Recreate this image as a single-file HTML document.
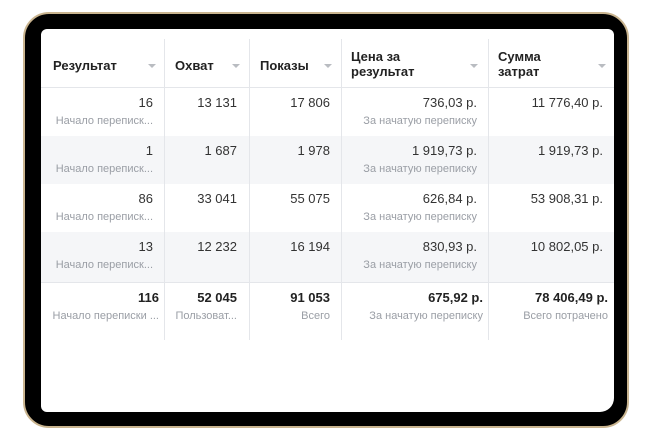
<!DOCTYPE html><html><head><style>
body{margin:0;width:650px;height:448px;background:#fff;position:relative;overflow:hidden;font-family:"Liberation Sans",sans-serif}
.frame{position:absolute;left:23px;top:12px;width:606px;height:416px;border-radius:26px;background:#000;border:2px solid #c9b48f;box-sizing:border-box}
.screen{position:absolute;left:41px;top:29px;width:573px;height:383px;background:#fff;border-radius:6px 6px 14px 6px;overflow:hidden}
.row{position:absolute;left:0;width:573px}
.g{background:#f5f6f8}
.vl{position:absolute;top:10px;height:301px;width:1px;background:#e4e6ea}
.hl{position:absolute;left:0;width:573px;height:1px;background:#e4e6ea}
.t{position:absolute;white-space:nowrap}
.h{font-weight:bold;font-size:13px;color:#222;line-height:15px}
.v{font-size:13px;color:#333;text-align:right}
.s{font-size:11px;color:#9a9ea5;text-align:right}
.b{font-weight:bold;color:#222}
.ar{position:absolute;width:0;height:0;border-left:4px solid transparent;border-right:4px solid transparent;border-top:4px solid #b9bcc1}
</style></head><body>
<div class="frame"></div>
<div class="screen">
<div class="row g" style="top:107px;height:48px"></div>
<div class="row g" style="top:203px;height:50px"></div>
<div class="hl" style="top:58px"></div>
<div class="hl" style="top:253px"></div>
<div class="vl" style="left:123px"></div><div class="vl" style="left:208px"></div><div class="vl" style="left:300px"></div><div class="vl" style="left:447px"></div>
<div class="t h" style="left:12px;top:29px">Результат</div><div class="ar" style="left:107px;top:35px"></div>
<div class="t h" style="left:134px;top:29px">Охват</div><div class="ar" style="left:191px;top:35px"></div>
<div class="t h" style="left:219px;top:29px">Показы</div><div class="ar" style="left:283px;top:35px"></div>
<div class="t h" style="left:310px;top:20px">Цена за<br>результат</div><div class="ar" style="left:429px;top:35px"></div>
<div class="t h" style="left:457px;top:20px">Сумма<br>затрат</div><div class="ar" style="left:557px;top:35px"></div>

<div class="t v" style="right:461px;top:66px">16</div><div class="t s" style="right:461px;top:86px">Начало переписк...</div>
<div class="t v" style="right:377px;top:66px">13 131</div>
<div class="t v" style="right:284px;top:66px">17 806</div>
<div class="t v" style="right:137px;top:66px">736,03 р.</div><div class="t s" style="right:137px;top:86px">За начатую переписку</div>
<div class="t v" style="right:11px;top:66px">11 776,40 р.</div>

<div class="t v" style="right:461px;top:114px">1</div><div class="t s" style="right:461px;top:134px">Начало переписк...</div>
<div class="t v" style="right:377px;top:114px">1 687</div>
<div class="t v" style="right:284px;top:114px">1 978</div>
<div class="t v" style="right:137px;top:114px">1 919,73 р.</div><div class="t s" style="right:137px;top:134px">За начатую переписку</div>
<div class="t v" style="right:11px;top:114px">1 919,73 р.</div>

<div class="t v" style="right:461px;top:162px">86</div><div class="t s" style="right:461px;top:182px">Начало переписк...</div>
<div class="t v" style="right:377px;top:162px">33 041</div>
<div class="t v" style="right:284px;top:162px">55 075</div>
<div class="t v" style="right:137px;top:162px">626,84 р.</div><div class="t s" style="right:137px;top:182px">За начатую переписку</div>
<div class="t v" style="right:11px;top:162px">53 908,31 р.</div>

<div class="t v" style="right:461px;top:210px">13</div><div class="t s" style="right:461px;top:230px">Начало переписк...</div>
<div class="t v" style="right:377px;top:210px">12 232</div>
<div class="t v" style="right:284px;top:210px">16 194</div>
<div class="t v" style="right:137px;top:210px">830,93 р.</div><div class="t s" style="right:137px;top:230px">За начатую переписку</div>
<div class="t v" style="right:11px;top:210px">10 802,05 р.</div>

<div class="t v b" style="right:455px;top:261px">116</div><div class="t s" style="right:455px;top:281px">Начало переписки ...</div>
<div class="t v b" style="right:377px;top:261px">52 045</div><div class="t s" style="right:377px;top:281px">Пользоват...</div>
<div class="t v b" style="right:284px;top:261px">91 053</div><div class="t s" style="right:284px;top:281px">Всего</div>
<div class="t v b" style="right:131px;top:261px">675,92 р.</div><div class="t s" style="right:131px;top:281px">За начатую переписку</div>
<div class="t v b" style="right:6px;top:261px">78 406,49 р.</div><div class="t s" style="right:6px;top:281px">Всего потрачено</div>
</div>
</body></html>
